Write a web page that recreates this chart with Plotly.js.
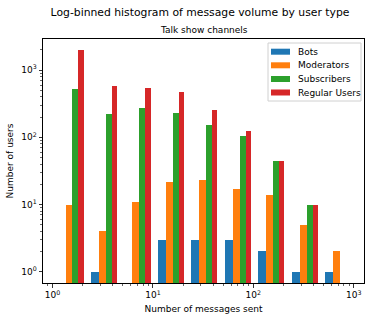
<!DOCTYPE html>
<html>
<head>
<meta charset="utf-8">
<script src="https://cdn.plot.ly/plotly-3.0.1.min.js"></script>
<style>
  html, body { margin: 0; padding: 0; background: #fff; }
  #chart { width: 367px; height: 320px; }
</style>
</head>
<body>
<div id="chart"></div>
<script>
// Log-spaced bin edges (messages sent), 9 bins from 1 to 1000
const binEdges = [1, 2.154, 4.642, 10, 21.54, 46.42, 100, 215.4, 464.2, 1000];

// Users per bin for each user type
const userTypes = ['Bots', 'Moderators', 'Subscribers', 'Regular Users'];
const bots        = [0, 1, 0, 3, 3, 3, 2, 1, 1];
const moderators  = [10, 4, 11, 22, 23, 17, 14, 5, 2];
const subscribers = [530, 220, 270, 230, 152, 103, 44, 10, 0];
const regular     = [2000, 585, 545, 465, 258, 125, 45, 10, 0];

const colors = ['#1f77b4', '#ff7f0e', '#2ca02c', '#d62728'];

// Axis ticks
const majorTicks = [1, 10, 100, 1000];
const xTickText = ['10<sup>0</sup>', '10<sup>1</sup>', '10<sup>2</sup>', '10<sup>3</sup>'];
const yTickText = ['10<sup>0</sup>', '10<sup>1</sup>', '10<sup>2</sup>', '10<sup>3</sup>'];

function minorTicks(lo, hi) {
  const out = [];
  for (let d = lo; d <= hi; d *= 10) {
    for (let m = 2; m <= 9; m++) out.push(m * d);
  }
  return out;
}

// Plot area geometry (pixels)
const W = 367, H = 320;
const M = { l: 43, r: 3, t: 39, b: 37 };
const PW = W - M.l - M.r, PH = H - M.t - M.b;
const px2x = px => (px - M.l) / PW;
const px2y = py => (H - M.b - py) / PH;

// Side-by-side bars inside each bin: 80% of the bin is shared by the four series
const series = [bots, moderators, subscribers, regular];
const nSeries = series.length;
const traces = series.map((vals, k) => {
  const xs = [], ws = [];
  for (let i = 0; i < binEdges.length - 1; i++) {
    const tot = binEdges[i + 1] - binEdges[i];
    const w = 0.8 * tot / nSeries;
    const left = binEdges[i] + 0.1 * tot + k * w;
    xs.push(left + w / 2);
    ws.push(w);
  }
  return {
    type: 'bar',
    name: userTypes[k],
    x: xs,
    y: vals,
    width: ws,
    marker: { color: colors[k], line: { width: 0 } },
    hoverinfo: 'x+y+name'
  };
});

const font = { family: 'DejaVu Sans, sans-serif', color: '#000' };

// Legend box in the upper right corner of the axes
const legendBox = { x0: 268, x1: 361, y0: 43, y1: 101 };
const rowY = [51.7, 65.3, 79, 92.5];
const shapes = [{
  type: 'rect', xref: 'paper', yref: 'paper',
  x0: px2x(legendBox.x0), x1: px2x(legendBox.x1),
  y0: px2y(legendBox.y1), y1: px2y(legendBox.y0),
  line: { color: '#d0d0d0', width: 1 }, fillcolor: 'rgba(255,255,255,0.8)', layer: 'above'
}];
const annotations = [{
  text: 'Talk show channels',
  xref: 'paper', yref: 'paper',
  x: 0.5, y: 1, xanchor: 'center', yanchor: 'bottom', yshift: 2,
  showarrow: false,
  font: Object.assign({ size: 9 }, font)
}];
userTypes.forEach((name, k) => {
  shapes.push({
    type: 'rect', xref: 'paper', yref: 'paper',
    x0: px2x(271), x1: px2x(290),
    y0: px2y(rowY[k] + 3), y1: px2y(rowY[k] - 3),
    line: { width: 0 }, fillcolor: colors[k], layer: 'above'
  });
  annotations.push({
    text: name, xref: 'paper', yref: 'paper',
    x: px2x(296), y: px2y(rowY[k]), xanchor: 'left', yanchor: 'middle',
    showarrow: false, font: Object.assign({ size: 9 }, font)
  });
});

const layout = {
  width: W,
  height: H,
  margin: Object.assign({ pad: 0, autoexpand: false }, M),
  paper_bgcolor: '#fff',
  plot_bgcolor: '#fff',
  barmode: 'overlay',
  bargap: 0,
  font: Object.assign({ size: 9 }, font),
  showlegend: false,
  xaxis: {
    type: 'log',
    range: [-0.095, 3.103],
    showgrid: false, zeroline: false,
    showline: true, linecolor: '#000', linewidth: 1, mirror: true,
    ticks: 'outside', ticklen: 3.5, tickwidth: 0.8, tickcolor: '#000',
    tickmode: 'array', tickvals: majorTicks, ticktext: xTickText,
    tickfont: Object.assign({ size: 9 }, font),
    minor: { ticks: 'outside', ticklen: 2, tickwidth: 0.6, tickcolor: '#000',
             tickmode: 'array', tickvals: minorTicks(1, 100).concat([0.9, 0.8]), showgrid: false },
    title: { text: 'Number of messages sent', font: Object.assign({ size: 9 }, font), standoff: 6 }
  },
  yaxis: {
    type: 'log',
    range: [-0.168, 3.463],
    showgrid: false, zeroline: false,
    showline: true, linecolor: '#000', linewidth: 1, mirror: true,
    ticks: 'outside', ticklen: 3.5, tickwidth: 0.8, tickcolor: '#000',
    tickmode: 'array', tickvals: majorTicks, ticktext: yTickText,
    tickfont: Object.assign({ size: 9 }, font),
    minor: { ticks: 'outside', ticklen: 2, tickwidth: 0.6, tickcolor: '#000',
             tickmode: 'array', tickvals: minorTicks(1, 1000), showgrid: false },
    title: { text: 'Number of users', font: Object.assign({ size: 9 }, font), standoff: 6 }
  },
  title: {
    text: 'Log-binned histogram of message volume by user type',
    font: Object.assign({ size: 10.8 }, font),
    x: 200 / W, xanchor: 'center', xref: 'container',
    y: 1 - 12.5 / H, yanchor: 'middle', yref: 'container'
  },
  shapes: shapes,
  annotations: annotations
};

Plotly.newPlot('chart', traces, layout, { displayModeBar: false, staticPlot: true });
</script>
</body>
</html>
